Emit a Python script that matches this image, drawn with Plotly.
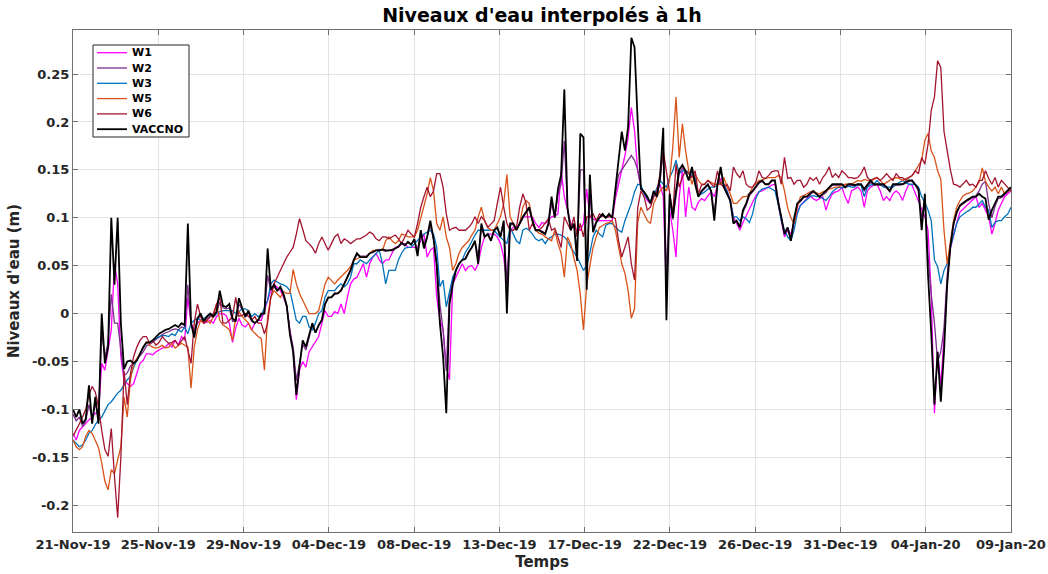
import pandas as pd
import plotly.graph_objects as go

# Water levels (m), one value every 4 hours from 21-Nov-2019 00:00 to 09-Jan-2020 00:00
# (six values per day, one row per day, plus the final sample)
W1 = [
    -0.125, -0.132, -0.122, -0.118, -0.115, -0.111,
    -0.108, -0.104, -0.104, -0.052, -0.059, -0.038,
    -0.017, 0.052, 0.031, -0.045, -0.070, -0.073,
    -0.076, -0.073, -0.063, -0.052, -0.049, -0.042,
    -0.042, -0.043, -0.040, -0.038, -0.036, -0.035,
    -0.031, -0.035, -0.028, -0.033, -0.024, -0.028,
    0.017, -0.010, -0.017, -0.010, -0.007, -0.010,
    -0.009, -0.007, -0.010, -0.003, 0.000, 0.000,
    -0.002, -0.010, -0.030, -0.015, -0.005, -0.012,
    -0.014, -0.010, -0.017, -0.010, -0.007, -0.007,
    0.003, 0.012, 0.024, 0.031, 0.028, 0.024,
    0.017, 0.007, -0.017, -0.038, -0.090, -0.059,
    -0.050, -0.056, -0.040, -0.035, -0.030, -0.024,
    -0.010, 0.003, -0.003, -0.003, 0.002, 0.000,
    0.010, 0.000, 0.017, 0.031, 0.036, 0.038,
    0.045, 0.052, 0.038, 0.052, 0.059, 0.063,
    0.056, 0.052, 0.056, 0.056, 0.063, 0.069,
    0.069, 0.073, 0.073, 0.069, 0.069, 0.069,
    0.069, 0.076, 0.083, 0.059, 0.066, 0.069,
    0.017, -0.007, -0.017, -0.056, -0.069, 0.031,
    0.038, 0.045, 0.052, 0.045, 0.049, 0.050,
    0.045, 0.052, 0.069, 0.080, 0.083, 0.083,
    0.083, 0.080, 0.073, 0.059, 0.031, 0.087,
    0.090, 0.090, 0.094, 0.101, 0.101, 0.101,
    0.101, 0.094, 0.090, 0.095, 0.094, 0.097,
    0.101, 0.102, 0.104, 0.149, 0.122, 0.108,
    0.094, 0.090, 0.087, 0.087, 0.094, 0.130,
    0.101, 0.099, 0.097, 0.097, 0.097, 0.097,
    0.097, 0.097, 0.120, 0.135, 0.150, 0.165,
    0.184, 0.215, 0.191, 0.149, 0.132, 0.125,
    0.118, 0.115, 0.122, 0.128, 0.135, 0.122,
    0.025, 0.108, 0.087, 0.059, 0.122, 0.149,
    0.101, 0.132, 0.111, 0.108, 0.116, 0.120,
    0.118, 0.123, 0.127, 0.122, 0.134, 0.141,
    0.135, 0.128, 0.118, 0.101, 0.094, 0.087,
    0.095, 0.102, 0.109, 0.116, 0.123, 0.127,
    0.128, 0.130, 0.132, 0.134, 0.135, 0.115,
    0.097, 0.080, 0.087, 0.083, 0.095, 0.106,
    0.113, 0.116, 0.120, 0.123, 0.120, 0.118,
    0.120, 0.122, 0.108, 0.118, 0.125, 0.127,
    0.128, 0.132, 0.122, 0.115, 0.128, 0.130,
    0.132, 0.128, 0.111, 0.128, 0.132, 0.134,
    0.135, 0.128, 0.118, 0.122, 0.118, 0.125,
    0.128, 0.125, 0.118, 0.128, 0.135, 0.134,
    0.125, 0.116, 0.109, 0.101, 0.087, 0.020,
    -0.104, -0.040, -0.075, -0.025, 0.035, 0.068,
    0.083, 0.095, 0.106, 0.109, 0.112, 0.115,
    0.118, 0.122, 0.111, 0.115, 0.108, 0.101,
    0.083, 0.094, 0.108, 0.115, 0.122, 0.125,
    0.128,
]

W2 = [
    -0.105, -0.112, -0.108, -0.118, -0.112, -0.095,
    -0.110, -0.095, -0.105, -0.020, -0.045, -0.030,
    0.020, -0.010, -0.010, -0.040, -0.065, -0.062,
    -0.055, -0.052, -0.048, -0.044, -0.040, -0.034,
    -0.032, -0.030, -0.027, -0.024, -0.022, -0.020,
    -0.019, -0.017, -0.016, -0.017, -0.014, -0.015,
    0.030, -0.012, -0.020, -0.006, -0.003, -0.008,
    -0.005, -0.002, -0.004, 0.001, 0.012, 0.006,
    0.005, 0.006, -0.008, -0.008, 0.010, 0.004,
    -0.004, 0.001, -0.008, -0.010, -0.007, -0.002,
    0.002, 0.040, 0.024, 0.028, 0.024, 0.026,
    0.020, 0.008, -0.020, -0.035, -0.070, -0.052,
    -0.032, -0.038, -0.025, -0.012, -0.020, -0.012,
    -0.006, 0.010, 0.016, 0.017, 0.020, 0.021,
    0.025, 0.031, 0.038, 0.046, 0.055, 0.062,
    0.060, 0.060, 0.060, 0.063, 0.065, 0.066,
    0.067, 0.066, 0.065, 0.066, 0.067, 0.068,
    0.070, 0.073, 0.072, 0.074, 0.072, 0.077,
    0.065, 0.085, 0.072, 0.080, 0.092, 0.078,
    0.055, 0.010, -0.017, -0.060, 0.020, 0.035,
    0.046, 0.052, 0.056, 0.058, 0.064, 0.069,
    0.075, 0.060, 0.090, 0.080, 0.083, 0.077,
    0.087, 0.089, 0.081, 0.095, 0.030, 0.092,
    0.093, 0.088, 0.094, 0.100, 0.105, 0.109,
    0.096, 0.088, 0.087, 0.086, 0.084, 0.093,
    0.115, 0.101, 0.125, 0.135, 0.180, 0.110,
    0.088, 0.093, 0.065, 0.150, 0.150, 0.040,
    0.125, 0.088, 0.096, 0.100, 0.102, 0.100,
    0.102, 0.100, 0.125, 0.145, 0.150, 0.155,
    0.160, 0.165, 0.160, 0.150, 0.132, 0.127,
    0.122, 0.116, 0.127, 0.122, 0.138, 0.170,
    0.040, 0.120, 0.098, 0.125, 0.146, 0.152,
    0.147, 0.139, 0.150, 0.136, 0.122, 0.127,
    0.131, 0.134, 0.128, 0.105, 0.134, 0.150,
    0.132, 0.125, 0.118, 0.096, 0.097, 0.091,
    0.106, 0.113, 0.123, 0.127, 0.131, 0.136,
    0.138, 0.135, 0.135, 0.138, 0.139, 0.117,
    0.100, 0.084, 0.090, 0.079, 0.098, 0.114,
    0.117, 0.121, 0.122, 0.124, 0.127, 0.124,
    0.122, 0.124, 0.126, 0.131, 0.134, 0.134,
    0.134, 0.134, 0.131, 0.133, 0.134, 0.133,
    0.134, 0.134, 0.128, 0.133, 0.137, 0.134,
    0.134, 0.134, 0.133, 0.131, 0.127, 0.133,
    0.134, 0.134, 0.135, 0.136, 0.138, 0.138,
    0.134, 0.128, 0.100, 0.120, 0.060, 0.020,
    -0.010, -0.050, -0.040, -0.015, 0.040, 0.072,
    0.093, 0.105, 0.112, 0.115, 0.117, 0.119,
    0.121, 0.123, 0.128, 0.135, 0.138, 0.115,
    0.100, 0.112, 0.120, 0.121, 0.124, 0.127,
    0.130,
]

W3 = [
    -0.132, -0.135, -0.139, -0.137, -0.132, -0.125,
    -0.122, -0.116, -0.111, -0.108, -0.101, -0.095,
    -0.092, -0.087, -0.083, -0.080, -0.075, -0.069,
    -0.066, -0.056, -0.049, -0.042, -0.036, -0.031,
    -0.030, -0.028, -0.026, -0.024, -0.023, -0.023,
    -0.024, -0.021, -0.023, -0.017, -0.019, -0.014,
    -0.021, -0.010, -0.007, -0.005, -0.007, -0.005,
    -0.003, -0.002, -0.003, 0.000, 0.002, 0.003,
    0.003, 0.003, 0.003, 0.000, 0.002, 0.005,
    0.005, 0.003, -0.003, 0.000, -0.003, -0.002,
    0.007, 0.014, 0.031, 0.035, 0.033, 0.031,
    0.030, 0.028, 0.024, 0.007, -0.007, -0.010,
    -0.003, -0.003, -0.014, -0.017, -0.010, 0.000,
    0.003, 0.017, 0.024, 0.024, 0.024, 0.028,
    0.031, 0.028, 0.031, 0.038, 0.052, 0.052,
    0.056, 0.054, 0.052, 0.056, 0.059, 0.063,
    0.066, 0.052, 0.031, 0.045, 0.045, 0.045,
    0.056, 0.063, 0.068, 0.069, 0.069, 0.073,
    0.076, 0.080, 0.083, 0.085, 0.087, 0.083,
    0.069, 0.028, 0.035, 0.007, 0.024, 0.038,
    0.045, 0.052, 0.056, 0.064, 0.069, 0.076,
    0.082, 0.087, 0.087, 0.087, 0.087, 0.087,
    0.087, 0.083, 0.080, 0.076, 0.073, 0.090,
    0.083, 0.076, 0.073, 0.087, 0.089, 0.087,
    0.083, 0.078, 0.076, 0.078, 0.073, 0.078,
    0.080, 0.083, 0.083, 0.082, 0.080, 0.076,
    0.069, 0.064, 0.059, 0.052, 0.045, 0.050,
    0.063, 0.080, 0.087, 0.083, 0.080, 0.092,
    0.094, 0.094, 0.090, 0.087, 0.085, 0.097,
    0.106, 0.115, 0.127, 0.135, 0.134, 0.125,
    0.120, 0.116, 0.123, 0.132, 0.139, 0.135,
    0.132, 0.142, 0.149, 0.160, 0.146, 0.149,
    0.149, 0.148, 0.144, 0.142, 0.123, 0.125,
    0.127, 0.130, 0.132, 0.132, 0.134, 0.137,
    0.135, 0.128, 0.118, 0.101, 0.101, 0.097,
    0.101, 0.099, 0.095, 0.104, 0.120, 0.127,
    0.130, 0.131, 0.132, 0.130, 0.128, 0.115,
    0.097, 0.087, 0.080, 0.076, 0.087, 0.104,
    0.113, 0.116, 0.119, 0.122, 0.123, 0.122,
    0.122, 0.120, 0.118, 0.122, 0.127, 0.130,
    0.132, 0.131, 0.132, 0.133, 0.132, 0.132,
    0.135, 0.134, 0.122, 0.132, 0.134, 0.135,
    0.139, 0.135, 0.132, 0.132, 0.132, 0.132,
    0.135, 0.137, 0.139, 0.137, 0.135, 0.135,
    0.135, 0.132, 0.122, 0.116, 0.108, 0.097,
    0.056, 0.049, 0.031, 0.045, 0.052, 0.069,
    0.083, 0.094, 0.101, 0.104, 0.106, 0.108,
    0.111, 0.111, 0.115, 0.118, 0.111, 0.108,
    0.090, 0.095, 0.097, 0.097, 0.101, 0.104,
    0.111,
]

W5 = [
    -0.132, -0.139, -0.142, -0.139, -0.128, -0.122,
    -0.125, -0.132, -0.140, -0.156, -0.175, -0.184,
    -0.163, -0.167, -0.153, -0.139, -0.087, -0.108,
    -0.069, -0.052, -0.047, -0.042, -0.035, -0.030,
    -0.033, -0.035, -0.036, -0.035, -0.033, -0.036,
    -0.035, -0.031, -0.036, -0.033, -0.031, -0.033,
    -0.035, -0.078, -0.035, -0.017, -0.007, -0.010,
    -0.007, -0.010, -0.003, 0.010, -0.007, -0.012,
    -0.014, -0.017, -0.028, -0.003, 0.002, -0.003,
    -0.007, -0.010, -0.017, -0.021, -0.024, -0.026,
    -0.059, -0.003, 0.017, 0.024, 0.021, 0.017,
    0.023, 0.021, 0.021, 0.046, 0.031, 0.021,
    0.014, 0.007, 0.000, 0.000, 0.000, 0.003,
    0.017, 0.031, 0.038, 0.035, 0.031, 0.035,
    0.038, 0.042, 0.045, 0.049, 0.056, 0.057,
    0.059, 0.059, 0.059, 0.063, 0.066, 0.066,
    0.066, 0.066, 0.076, 0.080, 0.076, 0.073,
    0.076, 0.083, 0.082, 0.080, 0.080, 0.080,
    0.087, 0.100, 0.115, 0.125, 0.142, 0.128,
    0.094, 0.087, 0.101, 0.080, 0.069, 0.045,
    0.052, 0.063, 0.069, 0.073, 0.076, 0.082,
    0.087, 0.101, 0.111, 0.097, 0.090, 0.087,
    0.087, 0.094, 0.101, 0.115, 0.145, 0.101,
    0.094, 0.087, 0.094, 0.111, 0.118, 0.115,
    0.097, 0.087, 0.084, 0.083, 0.080, 0.078,
    0.076, 0.087, 0.073, 0.063, 0.038, 0.080,
    0.073, 0.058, 0.045, 0.020, -0.017, 0.030,
    0.052, 0.069, 0.080, 0.090, 0.092, 0.094,
    0.095, 0.097, 0.087, 0.069, 0.052, 0.042,
    0.024, -0.005, 0.005, 0.095, 0.111, 0.104,
    0.097, 0.094, 0.115, 0.122, 0.128, 0.132,
    0.128, 0.139, 0.174, 0.226, 0.163, 0.198,
    0.170, 0.149, 0.135, 0.146, 0.139, 0.135,
    0.135, 0.139, 0.137, 0.135, 0.135, 0.135,
    0.142, 0.132, 0.125, 0.115, 0.115, 0.118,
    0.122, 0.122, 0.125, 0.132, 0.135, 0.139,
    0.139, 0.141, 0.142, 0.142, 0.142, 0.144,
    0.142, 0.128, 0.110, 0.100, 0.094, 0.110,
    0.122, 0.123, 0.125, 0.127, 0.128, 0.126,
    0.125, 0.127, 0.128, 0.130, 0.131, 0.132,
    0.132, 0.134, 0.135, 0.135, 0.135, 0.137,
    0.139, 0.138, 0.140, 0.139, 0.138, 0.140,
    0.142, 0.139, 0.135, 0.137, 0.139, 0.141,
    0.142, 0.141, 0.139, 0.141, 0.142, 0.144,
    0.149, 0.155, 0.160, 0.181, 0.188, 0.170,
    0.163, 0.149, 0.140, 0.087, 0.052, 0.075,
    0.097, 0.111, 0.118, 0.123, 0.125, 0.126,
    0.128, 0.132, 0.137, 0.152, 0.138, 0.132,
    0.128, 0.132, 0.125, 0.132, 0.125, 0.128,
    0.128,
]

W6 = [
    -0.128, -0.122, -0.115, -0.108, -0.100, -0.085,
    -0.076, -0.082, -0.097, -0.122, -0.142, -0.149,
    -0.120, -0.170, -0.213, -0.150, -0.060, -0.095,
    -0.063, -0.045, -0.035, -0.028, -0.024, -0.024,
    -0.031, -0.028, -0.033, -0.030, -0.024, -0.028,
    -0.031, -0.030, -0.028, -0.033, -0.028, -0.024,
    -0.038, -0.052, -0.010, 0.010, -0.003, -0.010,
    -0.007, -0.003, 0.000, 0.010, 0.017, -0.010,
    -0.010, -0.007, -0.003, 0.017, -0.003, -0.002,
    0.000, -0.003, -0.007, -0.003, -0.010, -0.010,
    -0.021, -0.010, 0.017, 0.031, 0.038, 0.045,
    0.052, 0.059, 0.064, 0.069, 0.083, 0.099,
    0.088, 0.076, 0.073, 0.069, 0.063, 0.073,
    0.080, 0.073, 0.066, 0.073, 0.080, 0.083,
    0.073, 0.078, 0.076, 0.073, 0.076, 0.078,
    0.078, 0.080, 0.082, 0.085, 0.083, 0.078,
    0.076, 0.080, 0.080, 0.078, 0.080, 0.082,
    0.078, 0.073, 0.080, 0.087, 0.083, 0.080,
    0.094, 0.111, 0.122, 0.132, 0.122, 0.128,
    0.146, 0.146, 0.132, 0.104, 0.087, 0.089,
    0.090, 0.087, 0.087, 0.087, 0.090, 0.094,
    0.101, 0.094, 0.101, 0.097, 0.090, 0.094,
    0.097, 0.115, 0.132, 0.111, 0.094, 0.087,
    0.087, 0.090, 0.111, 0.125, 0.115, 0.087,
    0.094, 0.087, 0.087, 0.090, 0.095, 0.099,
    0.087, 0.089, 0.080, 0.069, 0.101, 0.094,
    0.087, 0.101, 0.080, 0.094, 0.080, 0.101,
    0.101, 0.104, 0.097, 0.104, 0.102, 0.101,
    0.101, 0.101, 0.099, 0.076, 0.059, 0.069,
    0.080, 0.052, 0.035, 0.110, 0.128, 0.122,
    0.108, 0.111, 0.122, 0.127, 0.146, 0.170,
    0.149, 0.128, 0.104, 0.156, 0.132, 0.142,
    0.149, 0.146, 0.142, 0.149, 0.125, 0.134,
    0.135, 0.139, 0.135, 0.132, 0.149, 0.135,
    0.132, 0.135, 0.128, 0.153, 0.146, 0.142,
    0.149, 0.135, 0.132, 0.132, 0.137, 0.149,
    0.142, 0.141, 0.144, 0.148, 0.149, 0.149,
    0.135, 0.163, 0.141, 0.142, 0.135, 0.139,
    0.139, 0.132, 0.135, 0.142, 0.139, 0.142,
    0.135, 0.142, 0.146, 0.153, 0.142, 0.146,
    0.142, 0.149, 0.146, 0.142, 0.142, 0.141,
    0.142, 0.146, 0.153, 0.142, 0.139, 0.141,
    0.142, 0.139, 0.142, 0.146, 0.142, 0.139,
    0.146, 0.142, 0.142, 0.139, 0.142, 0.144,
    0.149, 0.146, 0.163, 0.156, 0.177, 0.212,
    0.226, 0.264, 0.257, 0.190, 0.170, 0.150,
    0.135, 0.134, 0.132, 0.135, 0.139, 0.134,
    0.135, 0.132, 0.139, 0.139, 0.149, 0.141,
    0.135, 0.142, 0.132, 0.139, 0.135, 0.132,
    0.128,
]

VACCNO = [
    -0.100, -0.108, -0.100, -0.115, -0.110, -0.075,
    -0.115, -0.087, -0.115, 0.000, -0.052, -0.035,
    0.100, 0.030, 0.100, -0.010, -0.058, -0.050,
    -0.049, -0.052, -0.049, -0.042, -0.035, -0.030,
    -0.030, -0.028, -0.024, -0.021, -0.019, -0.017,
    -0.016, -0.014, -0.012, -0.014, -0.010, -0.012,
    0.094, -0.010, -0.025, -0.005, 0.000, -0.008,
    -0.003, 0.000, -0.003, 0.002, 0.024, 0.008,
    0.007, 0.010, -0.005, -0.008, 0.016, 0.006,
    -0.003, 0.003, -0.007, -0.010, -0.007, 0.000,
    0.000, 0.068, 0.025, 0.030, 0.024, 0.028,
    0.020, 0.008, -0.022, -0.040, -0.085, -0.055,
    -0.028, -0.035, -0.022, -0.010, -0.020, -0.012,
    -0.007, 0.010, 0.017, 0.017, 0.021, 0.021,
    0.024, 0.031, 0.038, 0.045, 0.056, 0.063,
    0.059, 0.059, 0.059, 0.063, 0.064, 0.066,
    0.066, 0.067, 0.066, 0.066, 0.066, 0.068,
    0.070, 0.074, 0.071, 0.075, 0.072, 0.078,
    0.060, 0.087, 0.068, 0.080, 0.097, 0.078,
    0.050, -0.010, -0.045, -0.104, 0.010, 0.030,
    0.045, 0.052, 0.056, 0.057, 0.064, 0.069,
    0.076, 0.052, 0.094, 0.080, 0.083, 0.076,
    0.087, 0.090, 0.080, 0.097, 0.000, 0.094,
    0.094, 0.087, 0.094, 0.101, 0.106, 0.111,
    0.097, 0.087, 0.087, 0.085, 0.083, 0.094,
    0.122, 0.100, 0.130, 0.145, 0.234, 0.110,
    0.087, 0.094, 0.055, 0.188, 0.184, 0.025,
    0.145, 0.085, 0.095, 0.100, 0.104, 0.100,
    0.104, 0.100, 0.130, 0.165, 0.190, 0.170,
    0.195, 0.288, 0.278, 0.200, 0.130, 0.127,
    0.122, 0.115, 0.128, 0.122, 0.142, 0.194,
    -0.007, 0.125, 0.100, 0.128, 0.150, 0.155,
    0.149, 0.139, 0.153, 0.135, 0.122, 0.128,
    0.132, 0.135, 0.128, 0.097, 0.135, 0.153,
    0.132, 0.125, 0.118, 0.094, 0.097, 0.090,
    0.108, 0.115, 0.125, 0.128, 0.132, 0.137,
    0.139, 0.135, 0.135, 0.139, 0.139, 0.116,
    0.101, 0.083, 0.090, 0.076, 0.099, 0.115,
    0.118, 0.122, 0.122, 0.125, 0.128, 0.125,
    0.122, 0.125, 0.128, 0.132, 0.135, 0.135,
    0.135, 0.135, 0.132, 0.135, 0.135, 0.134,
    0.135, 0.135, 0.130, 0.135, 0.139, 0.135,
    0.135, 0.135, 0.135, 0.132, 0.128, 0.135,
    0.135, 0.135, 0.135, 0.137, 0.139, 0.139,
    0.135, 0.130, 0.087, 0.125, 0.040, -0.020,
    -0.095, -0.040, -0.092, -0.040, 0.030, 0.070,
    0.094, 0.106, 0.113, 0.116, 0.118, 0.120,
    0.122, 0.122, 0.125, 0.122, 0.120, 0.098,
    0.108, 0.115, 0.122, 0.122, 0.125, 0.128,
    0.132,
]

SERIES_NAMES = ["W1", "W2", "W3", "W5", "W6", "VACCNO"]
SERIES_COLORS = ["#FF00FF", "#7E2F8E", "#0072BD", "#D95319", "#A2142F", "#000000"]
SERIES_WIDTHS = [1.3, 1.3, 1.3, 1.3, 1.3, 1.8]

X_TICK_LABELS = ["21-Nov-19", "25-Nov-19", "29-Nov-19", "04-Dec-19", "08-Dec-19",
                 "13-Dec-19", "17-Dec-19", "22-Dec-19", "26-Dec-19", "31-Dec-19",
                 "04-Jan-20", "09-Jan-20"]
Y_TICK_VALUES = [-0.2, -0.15, -0.1, -0.05, 0, 0.05, 0.1, 0.15, 0.2, 0.25]
Y_TICK_LABELS = ["-0.2", "-0.15", "-0.1", "-0.05", "0", "0.05", "0.1", "0.15", "0.2", "0.25"]

START = pd.Timestamp("2019-11-21 00:00")
END = pd.Timestamp("2020-01-09 00:00")
times = pd.date_range(START, END, freq="4h")

series = [W1, W2, W3, W5, W6, VACCNO]
for s in series:
    assert len(s) == len(times), len(s)

# ticks evenly spread over the time span, labelled by date
n_ticks = len(X_TICK_LABELS)
tick_times = [START + (END - START) * k / (n_ticks - 1) for k in range(n_ticks)]

# figure geometry (pixels)
FIG_W, FIG_H = 1048, 574
M_L, M_R, M_T, M_B = 73, 37, 30, 42
PLOT_W = FIG_W - M_L - M_R
PLOT_H = FIG_H - M_T - M_B


def px_x(px):
    """Horizontal pixel position -> paper coordinate."""
    return (px - M_L) / PLOT_W


def px_y(py):
    """Vertical pixel position (from top) -> paper coordinate."""
    return (FIG_H - M_B - py) / PLOT_H


fig = go.Figure()
for name, values, color, width in zip(SERIES_NAMES, series, SERIES_COLORS, SERIES_WIDTHS):
    fig.add_trace(go.Scatter(
        x=times, y=values, mode="lines", name=name,
        line=dict(color=color, width=width),
        showlegend=False,
    ))

axis_color = "#707070"
grid_color = "#e3e3e3"
font_family = "DejaVu Sans, Liberation Sans, sans-serif"

# compact boxed legend in the upper-left corner of the axes
legend_shapes = [dict(
    type="rect", xref="paper", yref="paper",
    x0=px_x(93), x1=px_x(189), y0=px_y(45), y1=px_y(137),
    line=dict(color="#262626", width=1), fillcolor="white", layer="above",
)]
legend_texts = []
for k, (name, color, width) in enumerate(zip(SERIES_NAMES, SERIES_COLORS, SERIES_WIDTHS)):
    row_y = 52.7 + 15.3 * k
    legend_shapes.append(dict(
        type="line", xref="paper", yref="paper",
        x0=px_x(97), x1=px_x(127), y0=px_y(row_y), y1=px_y(row_y),
        line=dict(color=color, width=width), layer="above",
    ))
    legend_texts.append(dict(
        text=name, xref="paper", yref="paper",
        x=px_x(130), y=px_y(row_y), xanchor="left", yanchor="middle",
        showarrow=False,
        font=dict(size=11, color="black", weight="bold", family=font_family),
    ))

fig.update_layout(
    width=FIG_W, height=FIG_H,
    margin=dict(l=M_L, r=M_R, t=M_T, b=M_B),
    paper_bgcolor="white", plot_bgcolor="white",
    font=dict(family=font_family, color="#262626"),
    title=dict(
        text="Niveaux d'eau interpolés à 1h",
        x=0.5, xref="paper", xanchor="center",
        y=1 - 15 / FIG_H, yref="container", yanchor="middle",
        font=dict(size=19, color="black", weight="bold", family=font_family),
    ),
    shapes=legend_shapes,
    annotations=legend_texts,
    showlegend=False,
)

fig.update_xaxes(
    type="date",
    range=[START, END],
    tickmode="array", tickvals=tick_times, ticktext=X_TICK_LABELS,
    tickfont=dict(size=13, color="#262626", weight="bold", family=font_family),
    ticks="inside", ticklen=5, tickcolor=axis_color,
    showline=True, linecolor=axis_color, linewidth=1, mirror="ticks",
    showgrid=True, gridcolor=grid_color, gridwidth=1,
    zeroline=False,
    title=dict(text="Temps", standoff=5,
               font=dict(size=15, color="#262626", weight="bold", family=font_family)),
    automargin=False,
)

fig.update_yaxes(
    range=[-0.228, 0.296],
    tickmode="array", tickvals=Y_TICK_VALUES, ticktext=Y_TICK_LABELS,
    tickfont=dict(size=13, color="#262626", weight="bold", family=font_family),
    ticks="inside", ticklen=5, tickcolor=axis_color,
    showline=True, linecolor=axis_color, linewidth=1, mirror="ticks",
    showgrid=True, gridcolor=grid_color, gridwidth=1,
    zeroline=False,
    title=dict(text="Niveaux d'eau (m)", standoff=8,
               font=dict(size=15, color="#262626", weight="bold", family=font_family)),
    automargin=False,
)

fig.write_html("out.html")
